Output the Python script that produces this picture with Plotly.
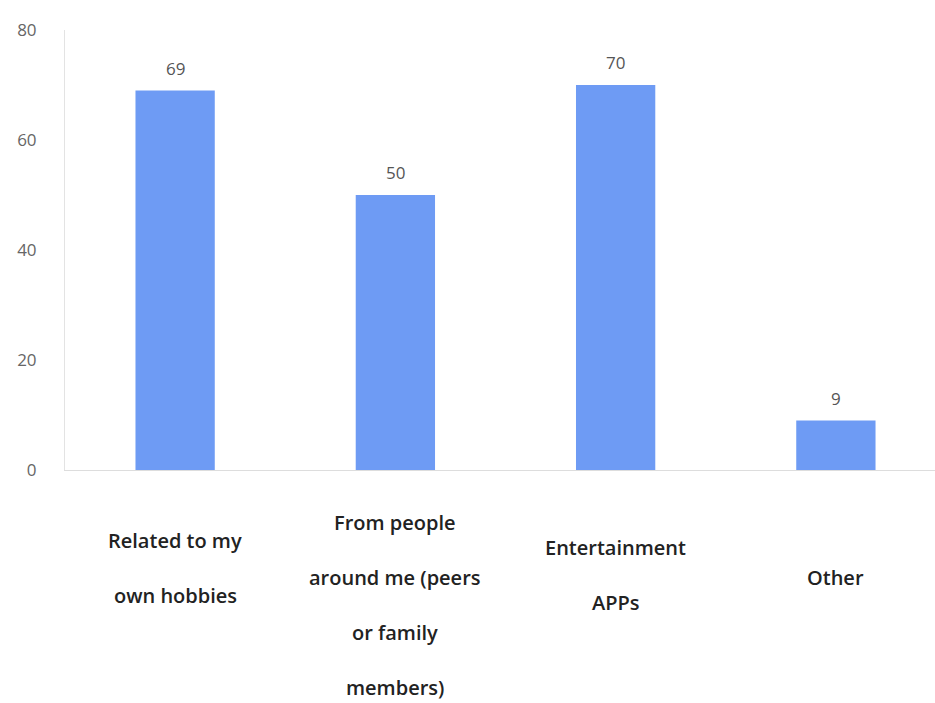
import plotly.graph_objects as go

categories = ["Related to my own hobbies", "From people around me (peers or family members)", "Entertainment APPs", "Other"]
values = [69, 50, 70, 9]
label_lines = [
    ["Related to my", "own hobbies"],
    ["From people", "around me (peers", "or family", "members)"],
    ["Entertainment", "APPs"],
    ["Other"],
]
y_ticks = [0, 20, 40, 60, 80]

# layout positions of the category label first lines (px below top of page)
first_line_px = [540, 522, 547, 577]
line_gap = 55
baseline_px = 470

xs = list(range(len(categories)))

fig = go.Figure()
fig.add_trace(go.Bar(
    x=xs, y=values,
    marker=dict(color="#6E9BF4", line=dict(width=0)),
    width=0.36,
))

annotations = []
for i, v in enumerate(values):
    annotations.append(dict(
        x=xs[i], xref="x", y=v, yref="y", yanchor="bottom", yshift=9,
        text=str(v), showarrow=False,
        font=dict(family="Open Sans", size=17, color="#555555"),
    ))
for i, lines in enumerate(label_lines):
    for j, ln in enumerate(lines):
        ypx = first_line_px[i] + j * line_gap
        annotations.append(dict(
            x=xs[i], xref="x", y=0, yref="paper", yanchor="middle",
            yshift=-(ypx - baseline_px), text=ln, showarrow=False,
            font=dict(family="Open Sans", size=20, color="#222222", weight=600),
        ))

fig.update_layout(
    width=935, height=703,
    margin=dict(l=65, r=0, t=30, b=703 - baseline_px),
    paper_bgcolor="white", plot_bgcolor="white",
    showlegend=False,
    annotations=annotations,
    xaxis=dict(range=[-0.5, 3.45], showticklabels=False, showgrid=False, zeroline=False,
               showline=True, linecolor="#DDDDDD", linewidth=1, ticks=""),
    yaxis=dict(range=[0, 80], tickvals=y_ticks, showgrid=False, zeroline=False,
               showline=True, linecolor="#E3E3E3", linewidth=1, ticks="",
               ticklabelstandoff=24,
               tickfont=dict(family="Open Sans", size=17, color="#666666")),
)

fig.write_html("out.html")
